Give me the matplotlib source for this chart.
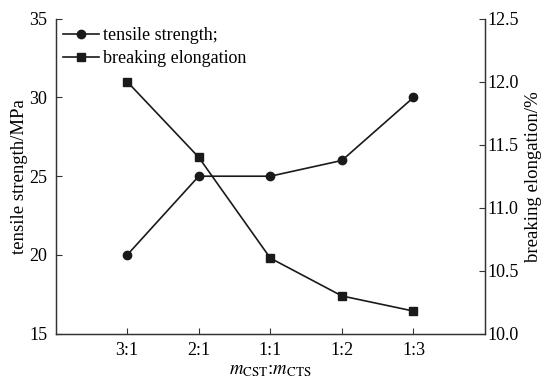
import matplotlib
matplotlib.use("Agg")
import matplotlib.pyplot as plt
from matplotlib.lines import Line2D

# ---------------------------------------------------------------------------
# Data
# ---------------------------------------------------------------------------
ratios = ["3:1", "2:1", "1:1", "1:2", "1:3"]
tensile_strength = [20.0, 25.0, 25.0, 26.0, 30.0]        # MPa
breaking_elongation = [12.0, 11.4, 10.6, 10.3, 10.18]    # %

plt.rcParams["font.family"] = ["Liberation Serif", "DejaVu Serif"]
plt.rcParams["mathtext.fontset"] = "stix"

fig = plt.figure(figsize=(5.45, 3.81), dpi=100)
ax = fig.add_axes([0.102, 0.124, 0.788, 0.827])
ax2 = ax.twinx()

x = list(range(len(ratios)))
ax.plot(x, tensile_strength, color="#1a1a1a", lw=1.2, marker="o", ms=6)
ax2.plot(x, breaking_elongation, color="#1a1a1a", lw=1.2, marker="s", ms=6)

ax.set_xlim(-1, 5)
ax.set_ylim(15, 35)
ax.set_yticks([15, 20, 25, 30, 35])
ax2.set_ylim(10.0, 12.5)
ax2.set_yticks([10.0, 10.5, 11.0, 11.5, 12.0, 12.5])
ax2.set_yticklabels([f"{v:.1f}" for v in ax2.get_yticks()])
ax.set_xticks(x)
ax.set_xticklabels(ratios)

for a in (ax, ax2):
    a.spines["top"].set_visible(False)
    for sp in a.spines.values():
        sp.set_linewidth(0.9)
        sp.set_color("#333333")
    a.tick_params(direction="in", length=4, width=0.8, labelsize=13, color="#333333")
ax.tick_params(axis="y", pad=6)
ax2.tick_params(axis="y", pad=2)
ax.tick_params(axis="x", pad=6)

ax.set_ylabel("tensile strength/MPa", fontsize=13.5, labelpad=1)
ax2.set_ylabel("breaking elongation/%", fontsize=13.5, labelpad=4)
ax.set_xlabel(r"$m_{\rm CST}$:$m_{\rm CTS}$", fontsize=13.5, labelpad=2)

handles = [
    Line2D([], [], color="#1a1a1a", lw=1.2, marker="o", ms=6),
    Line2D([], [], color="#1a1a1a", lw=1.2, marker="s", ms=6),
]
ax.legend(handles, ["tensile strength;", "breaking elongation"],
          loc="upper left", frameon=False, fontsize=13,
          handlelength=2.0, handletextpad=0.2, labelspacing=0.3,
          borderaxespad=0.0, bbox_to_anchor=(0.0, 0.995))

fig.savefig("out.png", dpi=100)
